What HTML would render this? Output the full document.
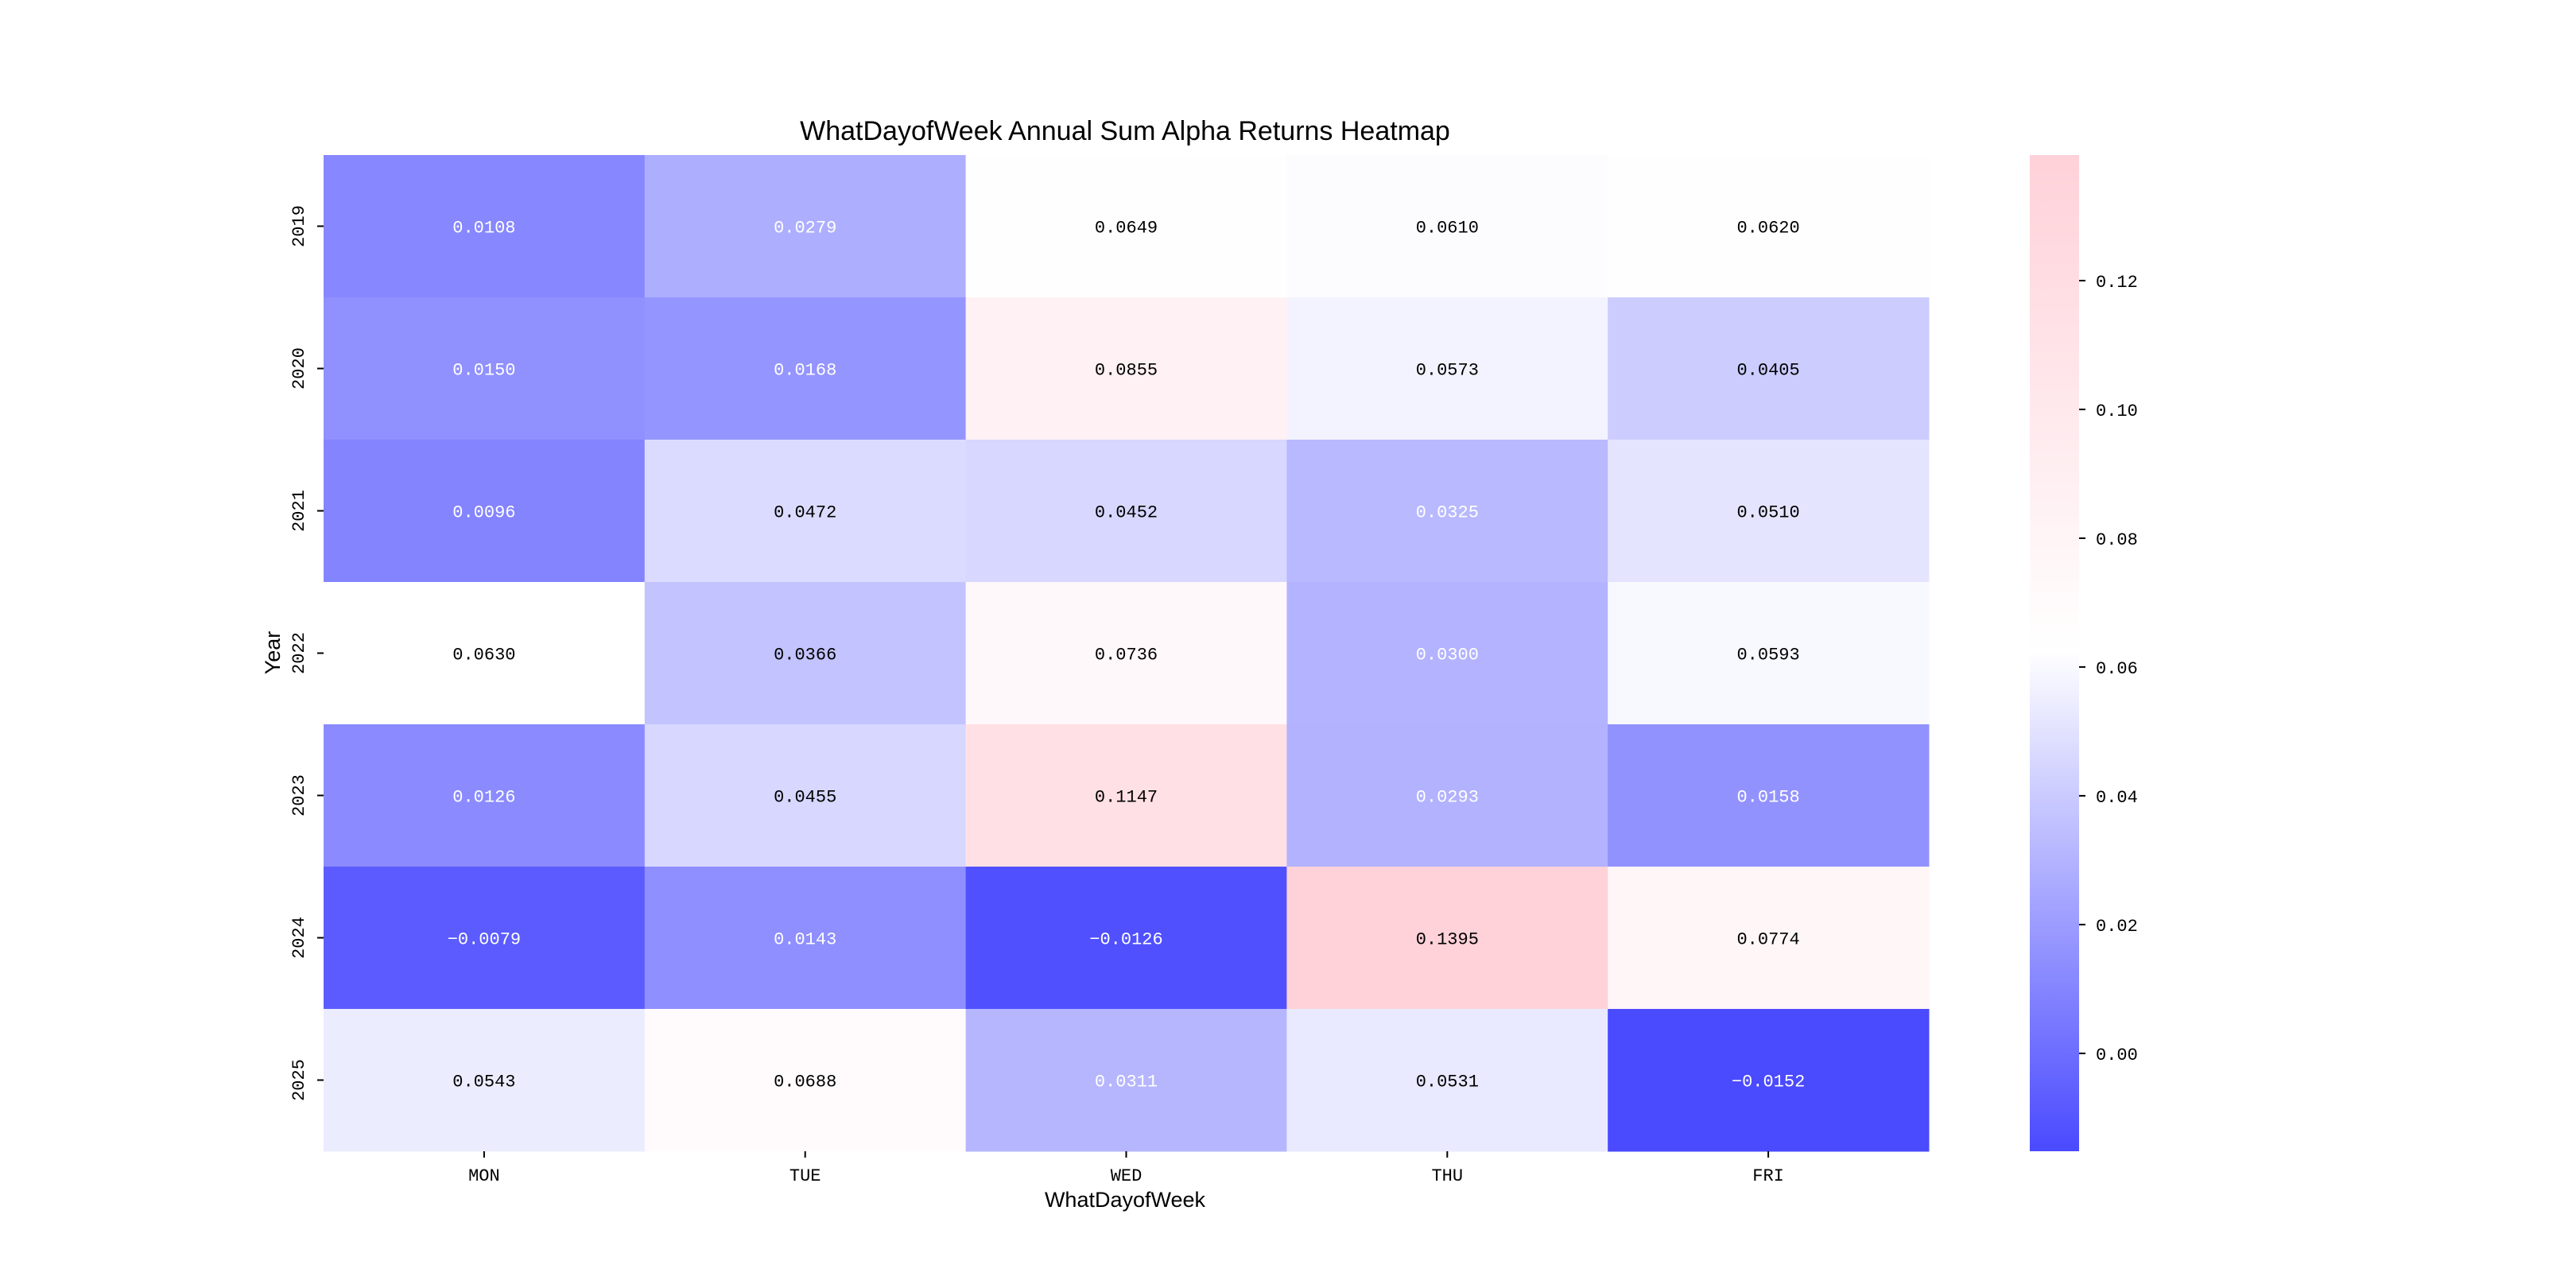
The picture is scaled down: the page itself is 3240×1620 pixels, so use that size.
<!DOCTYPE html>
<html><head><meta charset="utf-8"><style>
html,body{margin:0;padding:0;background:#fff;}
svg{display:block;}
text{font-family:"Liberation Mono","WenQuanYi Zen Hei",monospace;}
.t{font-family:"WenQuanYi Zen Hei","Liberation Sans",sans-serif;}
</style></head><body>
<svg id="chart" width="3240" height="1620" xmlns="http://www.w3.org/2000/svg">
<defs>
<linearGradient id="cbgrad" x1="0" y1="1" x2="0" y2="0">
<stop id="s0" offset="0" stop-color="rgb(74,74,255)"/>
<stop id="s1" offset="0.5" stop-color="rgb(255,255,255)"/>
<stop id="s2" offset="1" stop-color="rgb(255,209,217)"/>
</linearGradient>
</defs>
<text class="t" x="1415" y="176" font-size="34" text-anchor="middle">WhatDayofWeek Annual Sum Alpha Returns Heatmap</text>
<g id="cells"></g>
<g id="xticks"></g>
<g id="yticks"></g>
<text class="t" x="1415" y="1518" font-size="27" text-anchor="middle">WhatDayofWeek</text>
<text class="t" x="0" y="0" font-size="27" text-anchor="middle" transform="translate(352,821) rotate(-90)">Year</text>
<rect x="2553" y="195" width="62" height="1253" fill="url(#cbgrad)"/>
<g id="cbticks"></g>
</svg>
<script>
const days = ["MON","TUE","WED","THU","FRI"];
const years = ["2019","2020","2021","2022","2023","2024","2025"];
const v2019 = [0.0108,0.0279,0.0649,0.0610,0.0620];
const v2020 = [0.0150,0.0168,0.0855,0.0573,0.0405];
const v2021 = [0.0096,0.0472,0.0452,0.0325,0.0510];
const v2022 = [0.0630,0.0366,0.0736,0.0300,0.0593];
const v2023 = [0.0126,0.0455,0.1147,0.0293,0.0158];
const v2024 = [-0.0079,0.0143,-0.0126,0.1395,0.0774];
const v2025 = [0.0543,0.0688,0.0311,0.0531,-0.0152];
const cbTicks = [0.00,0.02,0.04,0.06,0.08,0.10,0.12];
const rows = [v2019,v2020,v2021,v2022,v2023,v2024,v2025];
const all = rows.flat();
const vmin = Math.min(...all), vmax = Math.max(...all), vcenter = 0.0625;
const X0=407, X1=2426, Y0=195, Y1=1448;
const cw=(X1-X0)/days.length, ch=(Y1-Y0)/years.length;
const NS="http://www.w3.org/2000/svg";
function mk(t,a){const e=document.createElementNS(NS,t);for(const k in a)e.setAttribute(k,a[k]);return e;}
function color(v){
  const lo=[74,74,255],mid=[255,255,255],hi=[255,209,217];
  let a,b,t;
  if(v<=vcenter){a=lo;b=mid;t=(v-vmin)/(vcenter-vmin);}else{a=mid;b=hi;t=(v-vcenter)/(vmax-vcenter);}
  t=Math.max(0,Math.min(1,t));
  return `rgb(${a.map((c,i)=>Math.round(c+(b[i]-c)*t)).join(',')})`;
}
function cbY(v){return Y1-(v-vmin)/(vmax-vmin)*(Y1-Y0);}
document.getElementById('s1').setAttribute('offset',(vcenter-vmin)/(vmax-vmin));
const gc=document.getElementById('cells');
rows.forEach((r,i)=>r.forEach((v,j)=>{
  const rc=mk('rect',{x:X0+j*cw,y:Y0+i*ch,width:cw+0.5,height:ch+0.5,fill:color(v)});
  
  
  gc.appendChild(rc);
  const tx=mk('text',{x:X0+(j+0.5)*cw,y:Y0+(i+0.5)*ch+8,'font-size':22,'text-anchor':'middle',fill:v<0.034?'#fff':'#000'});
  
  
  tx.textContent=v.toFixed(4).replace('-','\u2212');
  gc.appendChild(tx);
}));
const gx=document.getElementById('xticks');
days.forEach((d,j)=>{
  const x=X0+(j+0.5)*cw;
  gx.appendChild(mk('line',{x1:x,x2:x,y1:Y1,y2:Y1+8,stroke:'#000','stroke-width':2}));
  const t=mk('text',{x:x,y:1485,'font-size':22,'text-anchor':'middle'});
  
  
  t.textContent=d;gx.appendChild(t);
});
const gy=document.getElementById('yticks');
years.forEach((y,i)=>{
  const yy=Y0+(i+0.5)*ch;
  gy.appendChild(mk('line',{x1:X0-8,x2:X0,y1:yy,y2:yy,stroke:'#000','stroke-width':2}));
  const t=mk('text',{x:0,y:0,'font-size':22,'text-anchor':'middle',transform:`translate(382,${yy}) rotate(-90)`});
  
  
  t.textContent=y;gy.appendChild(t);
});
const gb=document.getElementById('cbticks');
cbTicks.forEach(v=>{
  const y=cbY(v);
  gb.appendChild(mk('line',{x1:2615,x2:2623,y1:y,y2:y,stroke:'#000','stroke-width':2}));
  const t=mk('text',{x:2636,y:y+8,'font-size':22});
  
  
  t.textContent=v.toFixed(2);gb.appendChild(t);
});
</script>
</body></html>
